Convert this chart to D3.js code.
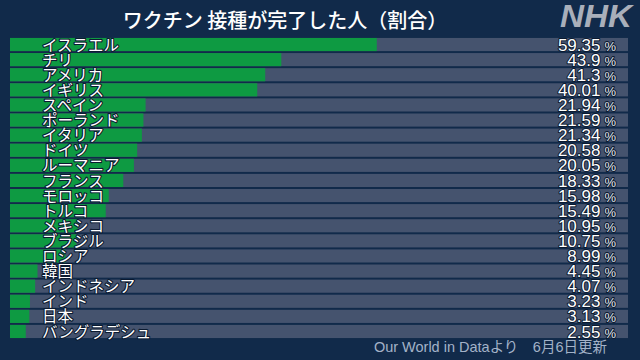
<!DOCTYPE html>
<html><head><meta charset="utf-8">
<script src="https://cdn.jsdelivr.net/npm/d3@7/dist/d3.min.js"></script>
<style>
html,body{margin:0;padding:0;background:#112a4a;}
svg{display:block;}
</style></head>
<body>
<svg id="c" width="640" height="360"></svg>
<script>
const categories = ["イスラエル","チリ","アメリカ","イギリス","スペイン","ポーランド","イタリア","ドイツ","ルーマニア","フランス","モロッコ","トルコ","メキシコ","ブラジル","ロシア","韓国","インドネシア","インド","日本","バングラデシュ"];
const values = [59.35,43.9,41.3,40.01,21.94,21.59,21.34,20.58,20.05,18.33,15.98,15.49,10.95,10.75,8.99,4.45,4.07,3.23,3.13,2.55];
const title = "ワクチン 接種が完了した人（割合）";
const source = "Our World in Dataより　6月6日更新";

const svg = d3.select("#c");
svg.append("rect").attr("width",640).attr("height",360).attr("fill","#112a4a");

const x = d3.scaleLinear().domain([0,100]).range([10,628]);
const y = d3.scaleBand().domain(categories).range([37.5,338.5]).paddingInner(0.13).paddingOuter(0.03);

const data = categories.map((c,i)=>({c, v:values[i]}));
const g = svg.append("g");
const row = g.selectAll("g.row").data(data).join("g").attr("class","row");

row.append("rect").attr("x",x(0)).attr("width",x(100)-x(0))
  .attr("y",d=>y(d.c)).attr("height",y.bandwidth()).attr("fill","#45536e");
row.append("rect").attr("x",x(0)).attr("width",d=>x(d.v)-x(0))
  .attr("y",d=>y(d.c)).attr("height",y.bandwidth()).attr("fill","#0e9a42");

const font = "'Noto Sans CJK JP', sans-serif";
row.append("text").attr("x",42).attr("y",d=>y(d.c)+y.bandwidth()-0.5)
  .attr("font-family",font).attr("font-size",15.5).attr("fill","#ffffff")
  .attr("stroke","#0b1a30").attr("stroke-width",2.2).attr("paint-order","stroke")
  .attr("stroke-linejoin","round")
  .text(d=>d.c);

const vt = row.append("text").attr("x",616).attr("y",d=>y(d.c)+y.bandwidth()-0.5)
  .attr("text-anchor","end").attr("font-family","'Liberation Sans', Arial, sans-serif")
  .attr("fill","#ffffff").attr("stroke","#0b1a30").attr("stroke-width",2).attr("paint-order","stroke")
  .attr("stroke-linejoin","round");
vt.append("tspan").attr("font-size",17).text(d=>String(d.v));
vt.append("tspan").attr("font-size",13).attr("dx",4).attr("fill","#e6e9ef").text("%");

svg.append("text").attr("x",285).attr("y",28).attr("text-anchor","middle")
  .attr("font-family",font).attr("font-weight",500).attr("font-size",20).attr("fill","#ffffff")
  .text(title);

svg.append("text").attr("x",632).attr("y",27).attr("text-anchor","end")
  .attr("font-family","'Liberation Sans', Arial, sans-serif").attr("font-weight","bold")
  .attr("font-style","italic").attr("font-size",31).attr("fill","#a9afba")
  .attr("textLength",72).attr("lengthAdjust","spacingAndGlyphs")
  .text("NHK");

svg.append("text").attr("x",607).attr("y",352).attr("text-anchor","end")
  .attr("font-family","'Liberation Sans', 'Noto Sans CJK JP', sans-serif").attr("font-size",14.5).attr("fill","#a3b2c8")
  .text(source);
</script>
</body></html>
